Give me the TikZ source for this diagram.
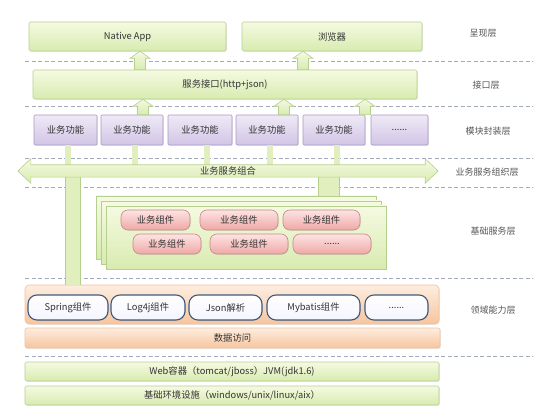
\documentclass[tikz,border=0pt]{standalone}
\usepackage{fontspec}
\setmainfont{Noto Sans CJK SC}
\usepackage{tikz}
\usetikzlibrary{calc,shadows}
\usepackage{xcolor}
\definecolor{grnTop}{HTML}{F5FAE2}
\definecolor{grnBot}{HTML}{D8EBB0}
\definecolor{grnLine}{HTML}{B5D08E}
\definecolor{purTop}{HTML}{EFE9F6}
\definecolor{purBot}{HTML}{D2C5E6}
\definecolor{purLine}{HTML}{A898C6}
\definecolor{redTop}{HTML}{FCE4E3}
\definecolor{redBot}{HTML}{EFA8A6}
\definecolor{redLine}{HTML}{C88886}
\definecolor{orgTop}{HTML}{FDEDE0}
\definecolor{orgBot}{HTML}{F7C59E}
\definecolor{orgLine}{HTML}{F0C3A0}
\definecolor{bluLine}{HTML}{3F5A7E}
\definecolor{dashGrey}{HTML}{A3ABBA}
\definecolor{txtDark}{HTML}{333333}
\definecolor{txtGrey}{HTML}{555555}
\tikzset{
  boxbase/.style={
    draw,
    rectangle,
    inner sep=0pt,
    line width=0.6pt,
    text=txtDark,
    font=\fontsize{9.3}{11}\selectfont,
    drop shadow={shadow xshift=0.8pt, shadow yshift=-0.8pt, opacity=0.18},
  },
  greenbox/.style={
    boxbase,
    draw=grnLine,
    top color=grnTop,
    bottom color=grnBot,
    rounded corners=1.5pt,
  },
  modbox/.style={
    boxbase,
    draw=purLine,
    top color=purTop,
    bottom color=purBot,
    rounded corners=1pt,
    minimum height=30pt,
  },
  stacklayer/.style={
    boxbase,
    draw=grnLine,
    top color=grnTop,
    bottom color=grnBot,
    minimum width=280pt,
    minimum height=63pt,
  },
  redpill/.style={
    boxbase,
    draw=redLine,
    top color=redTop,
    bottom color=redBot,
    rounded corners=7pt,
    minimum height=20pt,
  },
  orangebox/.style={
    boxbase,
    draw=orgLine,
    top color=orgTop,
    bottom color=orgBot,
    rounded corners=4pt,
  },
  bluepill/.style={
    boxbase,
    draw=bluLine,
    line width=1.1pt,
    top color=white,
    bottom color=blue!4,
    rounded corners=9pt,
    minimum height=25pt,
  },
  layerlabel/.style={
    text=txtGrey,
    font=\fontsize{9}{11}\selectfont,
  },
  divider/.style={
    draw=dashGrey,
    line width=0.7pt,
    dash pattern=on 4pt off 2.5pt,
  },
  barline/.style={
    draw=grnLine,
    line width=0.6pt,
    double=grnBot!70!grnTop,
  },
  blockarrow/.style={
    draw=grnLine,
    line width=0.6pt,
    top color=grnTop,
    bottom color=grnBot,
  },
  busline/.style={
    draw=grnLine,
    line width=0.6pt,
    top color=grnTop,
    bottom color=grnBot,
  },
}
\newcommand{\blockup}[2]{%
  \path[blockarrow] let \p1=(#1), \p2=(#2) in
    (\x1-5.5pt,\y1) -- (\x1-5.5pt,\y2-7pt) -- (\x1-10pt,\y2-7pt) -- (\x1,\y2)
    -- (\x1+10pt,\y2-7pt) -- (\x1+5.5pt,\y2-7pt) -- (\x1+5.5pt,\y1) -- cycle;}

\begin{document}
\begin{tikzpicture}[x=1pt,y=-1pt]
  \useasboundingbox (0,0) rectangle (533,419);

  \foreach \yy in {61,106,158,187,278,356.5}
    \draw[divider] (25,\yy) -- (533,\yy);

  \node[greenbox, minimum width=197pt, minimum height=29pt] (app) at (127.5,36.5) {Native App};
  \node[greenbox, minimum width=180pt, minimum height=29pt] (web) at (332,36.5) {浏览器};
  \node[greenbox, minimum width=384pt, minimum height=29pt] (api) at (225,84.5) {服务接口(http+json)};

  \node[modbox, minimum width=63pt] (m1) at (65.5,130) {业务功能};
  \node[modbox, minimum width=62pt] (m2) at (132,130) {业务功能};
  \node[modbox, minimum width=64pt] (m3) at (200,130) {业务功能};
  \node[modbox, minimum width=62pt] (m4) at (267,130) {业务功能};
  \node[modbox, minimum width=62pt] (m5) at (334,130) {业务功能};
  \node[modbox, minimum width=57pt] (m6) at (399.5,130) {......};

  \coordinate (ta1) at ([xshift=-85pt]api.north);
  \coordinate (ta2) at ([xshift=78pt]api.north);
  \blockup{ta1}{ta1 |- app.south}
  \blockup{ta2}{ta2 |- web.south}
  \coordinate (ua1) at ([xshift=-82pt]api.south |- m2.north);
  \coordinate (ua2) at ([xshift=59pt]api.south |- m4.north);
  \coordinate (ua3) at ([xshift=140pt]api.south |- m5.north);
  \blockup{ua1}{ua1 |- api.south}
  \blockup{ua2}{ua2 |- api.south}
  \blockup{ua3}{ua3 |- api.south}

  \node[minimum width=394pt, minimum height=12pt, inner sep=0pt] (bus) at (228,171) {};

  \foreach \m/\dx in {m1/2.5,m2/3,m3/7,m4/3,m5/3} {
    \coordinate (b\m) at ([xshift=\dx pt]\m.south);
    \draw[barline, double distance=5.5pt] (b\m) -- (b\m |- bus.north);
  }

  \node[stacklayer] (sb) at (236,227.5) {};
  \node[stacklayer] (sm) at (241,232.5) {};
  \node[stacklayer] (sf) at (246,237.5) {};

  \node[redpill, minimum width=69pt] (r1) at (155.5,220) {业务组件};
  \node[redpill, minimum width=78pt] (r2) at (239,220) {业务组件};
  \node[redpill, minimum width=77pt] (r3) at (321.5,220) {业务组件};
  \node[redpill, minimum width=68pt] (r4) at (167,244) {业务组件};
  \node[redpill, minimum width=78pt] (r5) at (249,244) {业务组件};
  \node[redpill, minimum width=78pt] (r6) at (332,244) {......};

  \node[orangebox, minimum width=414pt, minimum height=39pt] (dom) at (232,304.5) {};
  \node[bluepill, minimum width=80pt] (p1) at (68,307.5) {Spring组件};
  \node[bluepill, minimum width=74pt] (p2) at (148,307.5) {Log4j组件};
  \node[bluepill, minimum width=73pt] (p3) at (225.5,307.5) {Json解析};
  \node[bluepill, minimum width=93pt] (p4) at (313.5,307.5) {Mybatis组件};
  \node[bluepill, minimum width=63pt] (p5) at (396.5,307.5) {......};
  \node[orangebox, rounded corners=2pt, minimum width=415pt, minimum height=20pt] (dao) at (232.5,338) {数据访问};

  \node[greenbox, minimum width=414pt, minimum height=19pt] (jvm) at (232,371.5) {Web容器（tomcat/jboss）JVM(jdk1.6)};
  \node[greenbox, minimum width=414pt, minimum height=19pt] (infra) at (232,395.5) {基础环境设施（windows/unix/linux/aix）};

  \coordinate (lb) at ([xshift=-159pt]dom.north);
  \coordinate (rb) at ([xshift=93pt]sb.north);
  \draw[barline, double distance=14.5pt] (lb |- bus.south) -- (lb);
  \draw[barline, double distance=20.5pt] (rb |- bus.south) -- (rb);

  \path[busline] (bus.north west) -- (bus.north east) -- ([yshift=6pt]bus.north east)
    -- ([xshift=13pt]bus.east) -- ([yshift=-6pt]bus.south east) -- (bus.south east)
    -- (bus.south west) -- ([yshift=-6pt]bus.south west) -- ([xshift=-13pt]bus.west)
    -- ([yshift=6pt]bus.north west) -- cycle;
  \node[text=txtDark, font=\fontsize{9.3}{11}\selectfont] at (bus) {业务服务组合};

  \node[layerlabel] (l1) at (483,33) {呈现层};
  \node[layerlabel] (l2) at (486,85) {接口层};
  \node[layerlabel] (l3) at (488,131.5) {模块封装层};
  \node[layerlabel] (l4) at (487,172) {业务服务组织层};
  \node[layerlabel] (l5) at (493,231) {基础服务层};
  \node[layerlabel] (l6) at (493,310.5) {领域能力层};
\end{tikzpicture}
\end{document}
